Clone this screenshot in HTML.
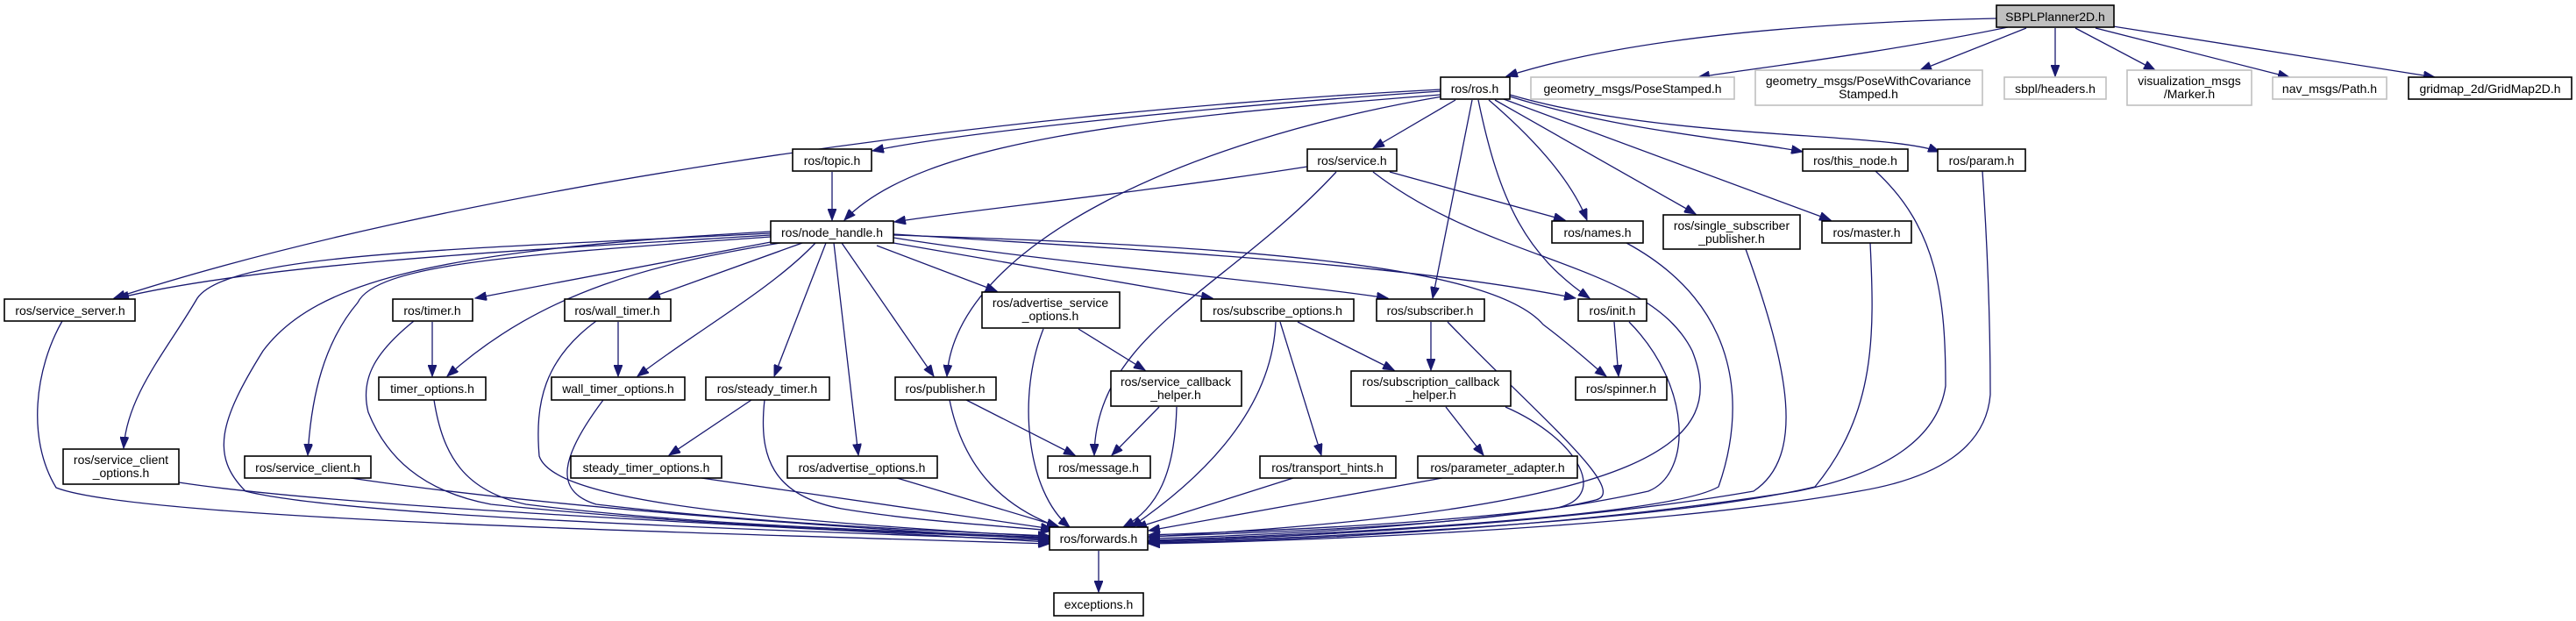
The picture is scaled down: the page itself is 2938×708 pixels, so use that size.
<!DOCTYPE html>
<html><head><meta charset="utf-8"><style>
html,body{margin:0;padding:0;background:#fff;}
svg{display:block;}
text{font-family:"Liberation Sans",sans-serif;font-size:14px;fill:#000;text-anchor:middle;}
.n{fill:#fff;stroke:#000;stroke-width:1.6;}
.g{fill:#fff;stroke:#bfbfbf;stroke-width:1.6;}
path.e{fill:none;stroke:#191970;stroke-width:1.3;}
</style></head><body>
<svg width="2938" height="708" viewBox="0 0 2938 708" xmlns="http://www.w3.org/2000/svg">
<defs><marker id="a" markerUnits="userSpaceOnUse" markerWidth="14" markerHeight="10" refX="13" refY="5" orient="auto"><path d="M0,0 L13,5 L0,10 z" fill="#191970" stroke="#191970"/></marker></defs>
<g marker-end="url(#a)">
<!-- SBPL -->
<path class="e" d="M2277,21 C2050,26 1850,45 1718,87"/>
<path class="e" d="M2290,31 C2150,60 2000,78 1937,88"/>
<path class="e" d="M2311,32 L2190,80"/>
<path class="e" d="M2344,32 L2344,87"/>
<path class="e" d="M2367,32 L2458,80"/>
<path class="e" d="M2390,32 L2611,88"/>
<path class="e" d="M2410,30 L2777,88"/>
<!-- ros.h -->
<path class="e" d="M1643,104 C1400,120 1100,150 995,172"/>
<path class="e" d="M1643,108 C1300,135 1050,160 963,251"/>
<path class="e" d="M1643,102 C1100,130 500,220 130,340"/>
<path class="e" d="M1645,110 C1350,160 1090,280 1080,429"/>
<path class="e" d="M1660,114 L1566,169"/>
<path class="e" d="M1698,114 C1740,150 1790,200 1810,251"/>
<path class="e" d="M1679,114 L1634,340"/>
<path class="e" d="M1686,114 C1710,230 1740,290 1813,340"/>
<path class="e" d="M1705,114 L1934,244"/>
<path class="e" d="M1715,113 L2088,251"/>
<path class="e" d="M1722,110 C1850,150 1990,160 2056,173"/>
<path class="e" d="M1722,108 C1900,160 2150,150 2212,173"/>
<!-- topic, service -->
<path class="e" d="M949,196 L949,251"/>
<path class="e" d="M1491,190 C1300,220 1100,240 1020,253"/>
<path class="e" d="M1585,196 L1785,251"/>
<path class="e" d="M1524,196 C1400,330 1250,380 1248,519"/>
<path class="e" d="M1566,196 C1700,300 1880,300 1930,400 C1970,500 1900,580 1310,612"/>
<!-- node_handle -->
<path class="e" d="M879,268 C600,285 300,300 134,340"/>
<path class="e" d="M879,266 C500,285 260,290 225,340 C190,400 145,450 141,511"/>
<path class="e" d="M879,270 C600,290 430,300 408,345 C370,390 355,450 351,519"/>
<path class="e" d="M879,276 L542,340"/>
<path class="e" d="M890,277 C750,300 620,330 510,429"/>
<path class="e" d="M915,277 L740,340"/>
<path class="e" d="M930,277 C880,330 790,380 727,429"/>
<path class="e" d="M942,277 L883,429"/>
<path class="e" d="M951,277 L979,519"/>
<path class="e" d="M960,277 L1065,429"/>
<path class="e" d="M1000,280 L1137,332"/>
<path class="e" d="M1019,277 L1383,340"/>
<path class="e" d="M1019,271 C1200,300 1450,320 1583,340"/>
<path class="e" d="M1019,267 C1300,285 1600,300 1797,340"/>
<path class="e" d="M1019,268 C1400,280 1700,300 1760,370 C1800,400 1820,420 1832,429"/>
<path class="e" d="M879,264 C500,285 360,320 300,400 C250,480 240,520 280,560 C400,590 900,605 1197,616"/>
<!-- left cluster to forwards -->
<path class="e" d="M71,366 C40,420 30,500 64,556 C150,590 700,605 1197,620"/>
<path class="e" d="M204,550 C400,580 900,600 1197,618"/>
<path class="e" d="M400,545 C600,575 900,598 1197,615"/>
<path class="e" d="M493,367 L493,429"/>
<path class="e" d="M472,366 C430,400 410,430 420,470 C440,520 480,560 560,575 C800,600 1050,608 1197,614"/>
<path class="e" d="M495,456 C505,520 530,560 600,575 C800,600 1050,606 1197,613"/>
<path class="e" d="M705,367 L705,429"/>
<path class="e" d="M680,366 C620,410 610,460 615,520 C630,565 800,590 1197,612"/>
<path class="e" d="M688,456 C640,520 630,560 680,575 C850,595 1050,605 1197,611"/>
<path class="e" d="M857,456 L763,519"/>
<path class="e" d="M872,456 C865,520 880,565 960,580 C1050,595 1150,600 1200,605"/>
<path class="e" d="M800,545 L1200,603"/>
<path class="e" d="M1023,545 L1207,600"/>
<!-- middle -->
<path class="e" d="M1230,375 L1306,422"/>
<path class="e" d="M1190,375 C1160,450 1170,560 1220,601"/>
<path class="e" d="M1102,456 L1226,519"/>
<path class="e" d="M1083,456 C1100,540 1150,580 1207,601"/>
<path class="e" d="M1322,464 L1268,519"/>
<path class="e" d="M1342,464 C1340,540 1320,580 1281,601"/>
<path class="e" d="M1480,367 L1590,422"/>
<path class="e" d="M1460,367 L1507,519"/>
<path class="e" d="M1455,367 C1450,480 1350,560 1290,601"/>
<path class="e" d="M1632,367 L1632,422"/>
<path class="e" d="M1651,367 C1750,470 1860,560 1820,570 C1700,600 1450,606 1310,612"/>
<path class="e" d="M1649,464 L1692,519"/>
<path class="e" d="M1717,464 C1800,500 1840,570 1770,580 C1600,600 1420,606 1310,610"/>
<path class="e" d="M1475,545 L1295,602"/>
<path class="e" d="M1645,545 L1310,605"/>
<path class="e" d="M1841,367 L1846,429"/>
<path class="e" d="M1858,367 C1930,440 1930,540 1880,560 C1700,600 1450,610 1310,614"/>
<path class="e" d="M1855,277 C1990,350 1990,470 1960,555 C1900,590 1500,610 1310,616"/>
<path class="e" d="M1991,284 C2040,420 2060,520 2000,560 C1800,595 1500,612 1310,617"/>
<path class="e" d="M2133,277 C2138,380 2140,470 2070,555 C1900,595 1500,614 1310,618"/>
<path class="e" d="M2139,195 C2210,260 2219,340 2219,440 C2210,500 2150,540 2050,560 C1800,600 1500,616 1310,619"/>
<path class="e" d="M2261,195 C2268,300 2270,380 2270,450 C2265,510 2210,545 2120,560 C1900,600 1500,617 1310,620"/>
<path class="e" d="M1253,628 L1253,675"/>
</g>
<!-- nodes -->
<rect x="2277" y="6" width="134" height="25" fill="#bfbfbf" stroke="#000" stroke-width="1.6"/><text x="2344" y="24">SBPLPlanner2D.h</text>
<rect class="n" x="1643" y="88" width="79" height="25"/><text x="1682" y="106">ros/ros.h</text>
<rect class="g" x="1746" y="88" width="232" height="25"/><text x="1862" y="106">geometry_msgs/PoseStamped.h</text>
<rect class="g" x="2002" y="80" width="259" height="40"/><text x="2131" y="97">geometry_msgs/PoseWithCovariance</text><text x="2131" y="112">Stamped.h</text>
<rect class="g" x="2286" y="88" width="116" height="25"/><text x="2344" y="106">sbpl/headers.h</text>
<rect class="g" x="2426" y="80" width="142" height="40"/><text x="2497" y="97">visualization_msgs</text><text x="2497" y="112">/Marker.h</text>
<rect class="g" x="2592" y="88" width="130" height="25"/><text x="2657" y="106">nav_msgs/Path.h</text>
<rect class="n" x="2747" y="88" width="186" height="25"/><text x="2840" y="106">gridmap_2d/GridMap2D.h</text>
<rect class="n" x="904" y="170" width="90" height="25"/><text x="949" y="188">ros/topic.h</text>
<rect class="n" x="1491" y="170" width="102" height="25"/><text x="1542" y="188">ros/service.h</text>
<rect class="n" x="2056" y="170" width="120" height="25"/><text x="2116" y="188">ros/this_node.h</text>
<rect class="n" x="2210" y="170" width="100" height="25"/><text x="2260" y="188">ros/param.h</text>
<rect class="n" x="879" y="252" width="140" height="25"/><text x="949" y="270">ros/node_handle.h</text>
<rect class="n" x="1770" y="252" width="104" height="25"/><text x="1822" y="270">ros/names.h</text>
<rect class="n" x="1897" y="245" width="156" height="39"/><text x="1975" y="262">ros/single_subscriber</text><text x="1975" y="277">_publisher.h</text>
<rect class="n" x="2078" y="252" width="102" height="25"/><text x="2129" y="270">ros/master.h</text>
<rect class="n" x="5" y="341" width="149" height="25"/><text x="80" y="359">ros/service_server.h</text>
<rect class="n" x="448" y="341" width="91" height="25"/><text x="493" y="359">ros/timer.h</text>
<rect class="n" x="644" y="341" width="121" height="25"/><text x="704" y="359">ros/wall_timer.h</text>
<rect class="n" x="1120" y="333" width="157" height="41"/><text x="1198" y="350">ros/advertise_service</text><text x="1198" y="365">_options.h</text>
<rect class="n" x="1370" y="341" width="174" height="25"/><text x="1457" y="359">ros/subscribe_options.h</text>
<rect class="n" x="1570" y="341" width="123" height="25"/><text x="1631" y="359">ros/subscriber.h</text>
<rect class="n" x="1800" y="341" width="78" height="25"/><text x="1839" y="359">ros/init.h</text>
<rect class="n" x="432" y="430" width="122" height="26"/><text x="493" y="448">timer_options.h</text>
<rect class="n" x="629" y="430" width="152" height="26"/><text x="705" y="448">wall_timer_options.h</text>
<rect class="n" x="805" y="430" width="141" height="26"/><text x="875" y="448">ros/steady_timer.h</text>
<rect class="n" x="1021" y="430" width="115" height="26"/><text x="1078" y="448">ros/publisher.h</text>
<rect class="n" x="1267" y="423" width="149" height="40"/><text x="1341" y="440">ros/service_callback</text><text x="1341" y="455">_helper.h</text>
<rect class="n" x="1541" y="423" width="182" height="40"/><text x="1632" y="440">ros/subscription_callback</text><text x="1632" y="455">_helper.h</text>
<rect class="n" x="1797" y="430" width="104" height="26"/><text x="1849" y="448">ros/spinner.h</text>
<rect class="n" x="72" y="512" width="132" height="40"/><text x="138" y="529">ros/service_client</text><text x="138" y="544">_options.h</text>
<rect class="n" x="279" y="520" width="144" height="25"/><text x="351" y="538">ros/service_client.h</text>
<rect class="n" x="651" y="520" width="172" height="25"/><text x="737" y="538">steady_timer_options.h</text>
<rect class="n" x="898" y="520" width="171" height="25"/><text x="983" y="538">ros/advertise_options.h</text>
<rect class="n" x="1195" y="520" width="117" height="25"/><text x="1253" y="538">ros/message.h</text>
<rect class="n" x="1437" y="520" width="155" height="25"/><text x="1514" y="538">ros/transport_hints.h</text>
<rect class="n" x="1617" y="520" width="182" height="25"/><text x="1708" y="538">ros/parameter_adapter.h</text>
<rect class="n" x="1197" y="601" width="112" height="26"/><text x="1253" y="619">ros/forwards.h</text>
<rect class="n" x="1202" y="676" width="102" height="26"/><text x="1253" y="694">exceptions.h</text>
</svg>
</body></html>
